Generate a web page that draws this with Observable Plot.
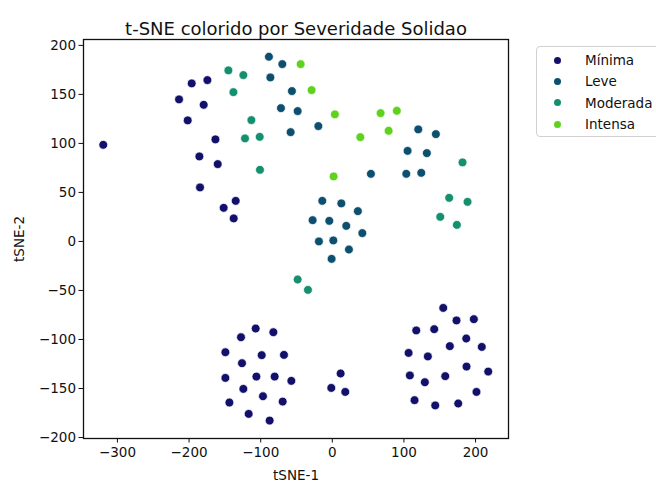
<!DOCTYPE html>
<html>
<head>
<meta charset="utf-8">
<script src="https://cdn.jsdelivr.net/npm/d3@7"></script>
<script src="https://cdn.jsdelivr.net/npm/@observablehq/plot@0.6"></script>
<style>
  html, body { margin: 0; padding: 0; background: #fff; overflow: hidden; }
  #wrap { position: relative; width: 656px; height: 481px; font-family: "DejaVu Sans", sans-serif; }
  #legend { position: absolute; left: 536px; top: 46px; width: 140px; height: 91px; border: 1px solid #d0d0d0; border-radius: 4px; background: #fff; box-sizing: border-box; }
  .item { position: absolute; left: 0; height: 20px; display: flex; align-items: center; font-size: 13.5px; color: #111; white-space: nowrap; }
  .dot { display: inline-block; width: 7px; height: 7px; border-radius: 50%; margin-left: 17px; margin-right: 24px; }
</style>
</head>
<body>
<div id="wrap"></div>
<script>
const categories = ["Mínima", "Leve", "Moderada", "Intensa"];
const colors = ["#12106a", "#0c4f6e", "#15906e", "#5fd21e"];

const minimaX = [-196.3,-174.4,-214.0,-179.6,-201.9,-319.8,-163.2,-185.6,-160.0,-184.7,-134.9,-151.7,-137.7,
  -107.0,-82.3,-127.5,-149.3,-98.6,-67.5,-126.1,-149.3,-106.0,-80.5,-57.2,-124.2,-96.8,-143.7,-69.3,-116.8,-87.5,
  11.6,-1.4,18.1,
  154.9,173.4,197.6,117.2,142.3,187.0,164.1,208.7,106.5,133.4,187.4,217.7,108.3,129.2,157.7,201.3,114.8,143.7,175.8];
const minimaY = [161.2,164.6,144.9,139.4,123.5,98.6,104.1,86.7,78.9,55.1,41.4,34.3,23.5,
  -88.8,-92.6,-97.7,-113.0,-116.0,-115.7,-124.2,-139.2,-137.8,-137.8,-142.2,-150.4,-157.9,-164.3,-163.3,-175.9,-182.7,
  -134.7,-149.4,-153.5,
  -67.8,-80.6,-79.3,-90.8,-89.5,-99.0,-106.8,-107.6,-113.7,-117.3,-127.6,-132.7,-136.7,-143.6,-137.4,-153.5,-161.9,-167.3,-165.3];

const leveX = [-88.5,-69.8,-86.5,-56.4,-71.7,-48.4,-58.2,-19.5,120.0,144.6,105.1,132.0,53.9,103.3,124.2,
  -14.0,12.6,35.7,-27.5,-4.2,19.5,41.9,-18.7,1.4,23.2,-1.0];
const leveY = [188.4,180.9,167.3,153.4,136.0,133.0,111.5,117.7,114.3,109.5,92.4,90.1,69.0,69.0,70.0,
  41.4,38.8,30.9,21.7,21.0,15.9,8.5,0.0,1.0,-8.2,-17.8];

const moderadaX = [-145.1,-124.2,-138.1,-113.0,-121.9,-101.4,-101.0,-48.4,-34.0,181.8,163.2,188.8,150.7,173.9];
const moderadaY = [174.5,169.7,152.3,123.8,105.1,106.7,73.1,-38.8,-49.4,80.6,44.5,40.4,25.1,16.9];

const intensaX = [-44.2,-28.9,3.6,67.4,90.1,78.6,39.1,1.8];
const intensaY = [180.9,154.4,129.6,130.9,133.3,112.9,106.4,66.3];

const xTicks = [-300, -200, -100, 0, 100, 200];
const yTicks = [-200, -150, -100, -50, 0, 50, 100, 150, 200];

const series = [[minimaX, minimaY], [leveX, leveY], [moderadaX, moderadaY], [intensaX, intensaY]];
const data = [];
series.forEach(([xs, ys], i) => xs.forEach((x, j) => data.push({x, y: ys[j], sev: categories[i]})));

const chart = Plot.plot({
  width: 656,
  height: 481,
  marginLeft: 83,
  marginRight: 148,
  marginTop: 39,
  marginBottom: 43,
  style: { fontFamily: "DejaVu Sans, sans-serif", fontSize: "13.5px", color: "#111", background: "#fff" },
  x: { domain: [-347.4, 246], ticks: xTicks, tickSize: 4.5, tickPadding: 4, label: "tSNE-1", labelAnchor: "center", labelOffset: 41, labelArrow: "none" },
  y: { domain: [-201, 206], ticks: yTicks, tickSize: 4.5, tickPadding: 3, label: "tSNE-2", labelAnchor: "center", labelOffset: 69, labelArrow: "none" },
  color: { domain: categories, range: colors },
  marks: [
    Plot.frame({ stroke: "#111", strokeWidth: 1.3 }),
    Plot.dot(data, { x: "x", y: "y", fill: "sev", r: 4.4, stroke: "white", strokeWidth: 0.7 }),
    Plot.text(["t-SNE colorido por Severidade Solidao"], { frameAnchor: "top", dy: -17, fontSize: 18, fill: "#111" })
  ]
});
document.getElementById("wrap").appendChild(chart);

const legend = document.createElement("div");
legend.id = "legend";
categories.forEach((c, i) => {
  const it = document.createElement("div");
  it.className = "item";
  it.style.top = (3 + i * 21.4) + "px";
  const d = document.createElement("span");
  d.className = "dot";
  d.style.background = colors[i];
  it.appendChild(d);
  it.appendChild(document.createTextNode(c));
  legend.appendChild(it);
});
document.getElementById("wrap").appendChild(legend);
</script>
</body>
</html>
